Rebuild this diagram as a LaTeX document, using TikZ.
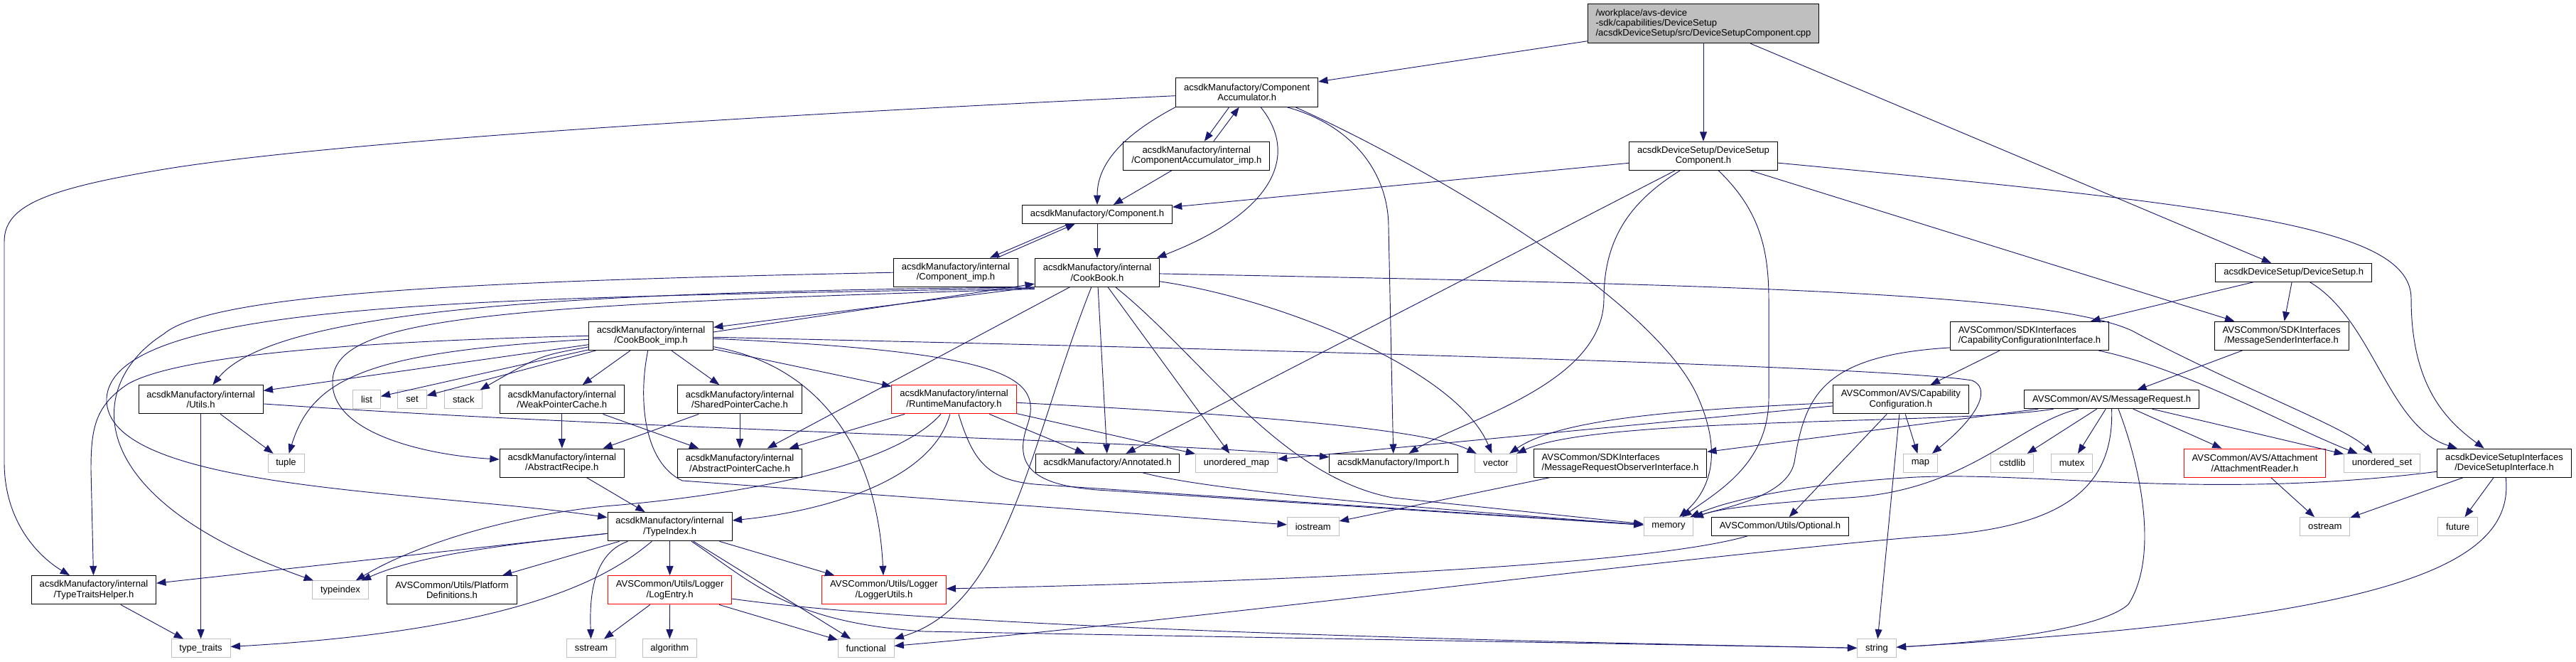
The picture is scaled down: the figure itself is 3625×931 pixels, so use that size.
\documentclass[tikz,border=0pt]{standalone}
\usepackage{fontspec}
\setmainfont{Liberation Sans}
\usepackage{tikz}
\usetikzlibrary{arrows.meta}
\definecolor{edgeblue}{HTML}{191970}
\definecolor{sysgray}{HTML}{BFBFBF}

\begin{document}
\begin{tikzpicture}
 [x=0.75pt, y=-0.75pt,
  file node/.style={draw=black, fill=white, line width=0.75pt, align=center, inner xsep=8.5pt, inner ysep=0pt, minimum height=30.2pt, font=\fontsize{9.8}{10.8}\selectfont},
  short node/.style={file node, minimum height=19.3pt},
  sys node/.style={short node, draw=sysgray},
  red node/.style={file node, draw=red},
  src node/.style={file node, fill=sysgray, align=left, minimum height=41.25pt},
  dep/.style={draw=edgeblue, line width=0.7pt, -{Triangle[length=10pt,width=7.5pt]}}]

\useasboundingbox (0,0) rectangle (3625,931);

\node[src node] (src) at (2397,33.2) {/workplace/avs-device\\-sdk/capabilities/DeviceSetup\\/acsdkDeviceSetup/src/DeviceSetupComponent.cpp};
\node[file node] (dscomp) at (2397,219.3) {acsdkDeviceSetup/DeviceSetup\\Component.h};
\node[file node] (compacc) at (1754.7,130) {acsdkManufactory/Component\\Accumulator.h};
\node[file node] (compaccimp) at (1683.8,219.3) {acsdkManufactory/internal\\/ComponentAccumulator\_imp.h};
\node[short node] (comp) at (1544,301.3) {acsdkManufactory/Component.h};
\node[file node] (compimp) at (1345,383.2) {acsdkManufactory/internal\\/Component\_imp.h};
\node[file node] (cookbook) at (1544,383.2) {acsdkManufactory/internal\\/CookBook.h};
\node[file node] (cookbookimp) at (916,472.3) {acsdkManufactory/internal\\/CookBook\_imp.h};

\node[file node] (utils) at (282.6,561.8) {acsdkManufactory/internal\\/Utils.h};
\node[sys node] (list) at (516,561.8) {list};
\node[sys node] (set) at (580,561.8) {set};
\node[sys node] (stack) at (652.3,561.8) {stack};
\node[file node] (weakcache) at (790.8,561.8) {acsdkManufactory/internal\\/WeakPointerCache.h};
\node[file node] (sharedcache) at (1041,561.8) {acsdkManufactory/internal\\/SharedPointerCache.h};
\node[red node] (runtime) at (1342.5,561.8) {acsdkManufactory/internal\\/RuntimeManufactory.h};

\node[sys node] (tuple) at (402.5,651.2) {tuple};
\node[file node] (recipe) at (790.8,651.2) {acsdkManufactory/internal\\/AbstractRecipe.h};
\node[file node] (ptrcache) at (1041,651.2) {acsdkManufactory/internal\\/AbstractPointerCache.h};
\node[short node] (annotated) at (1558.5,651.2) {acsdkManufactory/Annotated.h};
\node[sys node] (umap) at (1740,651.2) {unordered\_map};
\node[short node] (import) at (1961,651.2) {acsdkManufactory/Import.h};
\node[sys node] (vector) at (2105,651.2) {vector};
\node[file node, align=left] (mrobs) at (2280,651.2) {AVSCommon/SDKInterfaces\\/MessageRequestObserverInterface.h};

\node[file node] (typeidx) at (942.6,740.7) {acsdkManufactory/internal\\/TypeIndex.h};
\node[sys node] (iostream) at (1847.8,740.5) {iostream};
\node[sys node] (memory) at (2348,740.5) {memory};
\node[short node] (optional) at (2505,740.5) {AVSCommon/Utils/Optional.h};

\node[file node] (ttraits) at (132,829.8) {acsdkManufactory/internal\\/TypeTraitsHelper.h};
\node[sys node] (typeindex) at (479,829.8) {typeindex};
\node[file node] (platform) at (636,829.8) {AVSCommon/Utils/Platform\\Definitions.h};
\node[red node] (logentry) at (942.6,829.8) {AVSCommon/Utils/Logger\\/LogEntry.h};
\node[red node] (loggerutils) at (1244,829.8) {AVSCommon/Utils/Logger\\/LoggerUtils.h};

\node[sys node] (typetraits) at (282.6,911.8) {type\_traits};
\node[sys node] (sstream) at (832,911.8) {sstream};
\node[sys node] (algorithm) at (942.3,911.8) {algorithm};
\node[sys node] (functional) at (1218.7,911.8) {functional};
\node[sys node] (string) at (2641,911.8) {string};

\node[short node] (devsetup) at (3227.7,383.2) {acsdkDeviceSetup/DeviceSetup.h};
\node[file node, align=left] (capcfgif) at (2856,472.3) {AVSCommon/SDKInterfaces\\/CapabilityConfigurationInterface.h};
\node[file node] (msgsender) at (3210.6,472.3) {AVSCommon/SDKInterfaces\\/MessageSenderInterface.h};
\node[file node] (capcfg) at (2674.8,561.8) {AVSCommon/AVS/Capability\\Configuration.h};
\node[short node] (msgreq) at (2971.6,561.8) {AVSCommon/AVS/MessageRequest.h};
\node[sys node] (map) at (2702.5,651.2) {map};
\node[sys node] (cstdlib) at (2831.8,651.2) {cstdlib};
\node[sys node] (mutex) at (2915.6,651.2) {mutex};
\node[red node] (attreader) at (3173,651.2) {AVSCommon/AVS/Attachment\\/AttachmentReader.h};
\node[sys node] (uset) at (3352,651.2) {unordered\_set};
\node[file node] (dsif) at (3524,651.2) {acsdkDeviceSetupInterfaces\\/DeviceSetupInterface.h};
\node[sys node] (ostream) at (3271.8,740.5) {ostream};
\node[sys node] (future) at (3458.7,740.5) {future};

\path
  (src) edge [dep] (compacc)
  (src) edge [dep] (dscomp)
  (src) edge [dep] (devsetup)

  (dscomp) edge [dep] (comp)
  (dscomp) edge [dep] (annotated)
  (dscomp) edge [dep] (msgsender)

  ([xshift=-18.75pt]compacc.south) edge [dep] ([xshift=8.25pt]compaccimp.north)
  ([xshift=18pt]compaccimp.north) edge [dep] ([xshift=-8.25pt]compacc.south)
  (compaccimp) edge [dep] (comp)

  (comp) edge [dep] (cookbook)
  ([xshift=-29.25pt]comp.south) edge [dep] ([xshift=36pt]compimp.north)
  ([xshift=43.5pt]compimp.north) edge [dep] ([xshift=-23.25pt]comp.south)

  (cookbook.south west) edge [dep] ([yshift=9pt]cookbookimp.east)
  ([yshift=4pt]cookbookimp.east) edge [dep] ([yshift=3.5pt]cookbook.south west)
  (cookbook) edge [dep] (ptrcache)
  (cookbook) edge [dep] (annotated)
  (cookbook) edge [dep] (umap)

  (cookbookimp) edge [dep] (utils)
  (cookbookimp) edge [dep] (list)
  (cookbookimp) edge [dep] (set)
  (cookbookimp) edge [dep] (weakcache)
  (cookbookimp) edge [dep] (sharedcache)
  (cookbookimp) edge [dep] (runtime)

  (weakcache) edge [dep] (recipe)
  (weakcache) edge [dep] (ptrcache)
  (sharedcache) edge [dep] (ptrcache)
  (sharedcache) edge [dep] (recipe)
  (recipe) edge [dep] (typeidx)

  (runtime) edge [dep] (ptrcache)
  (runtime) edge [dep] (annotated)
  (runtime) edge [dep] (umap)

  (utils) edge [dep] (tuple)
  (utils) edge [dep] (typetraits)
  (ttraits) edge [dep] (typetraits)

  (typeidx) edge [dep] (ttraits)
  (typeidx) edge [dep] (platform)
  (typeidx) edge [dep] (logentry)
  (typeidx) edge [dep] (loggerutils)
  (typeidx) edge [dep] (functional)

  (logentry) edge [dep] (sstream)
  (logentry) edge [dep] (algorithm)
  (logentry) edge [dep] (functional)

  (devsetup) edge [dep] (capcfgif)
  (devsetup) edge [dep] (msgsender)
  (msgsender) edge [dep] (msgreq)
  (capcfgif) edge [dep] (capcfg)

  (capcfg) edge [dep] (umap)
  (capcfg) edge [dep] (map)
  (capcfg) edge [dep] (optional)
  (capcfg) edge [dep] (string)

  (msgreq) edge [dep] (mrobs)
  (msgreq) edge [dep] (cstdlib)
  (msgreq) edge [dep] (mutex)
  (msgreq) edge [dep] (attreader)
  (msgreq) edge [dep] (uset)

  (mrobs) edge [dep] (iostream)
  (attreader) edge [dep] (ostream)
  (dsif) edge [dep] (ostream)
  (dsif) edge [dep] (future);

\draw[dep] (dscomp) .. controls (2300,280) and (2257,330) .. (2257,420) .. controls (2257,540) and (2060,590) .. (import);
\draw[dep] (dscomp) .. controls (2470,290) and (2489,340) .. (2489,420) -- (2489,560) .. controls (2489,650) and (2420,690) .. (memory);
\draw[dep] (dscomp) .. controls (3150,290) and (3393,320) .. (3393,420) .. controls (3393,540) and (3440,590) .. (dsif);

\draw[dep] (compacc) .. controls (900,170) and (450,205) .. (250,235) .. controls (60,265) and (6,290) .. (6,340) -- (6,650) .. controls (6,730) and (50,780) .. (ttraits);
\draw[dep] (compacc.south west) .. controls (1580,190) and (1544,230) .. (comp);
\draw[dep] ([xshift=14.5pt]compacc.south) .. controls (1830,220) and (1790,300) .. ([xshift=-3pt]cookbook.north east);
\draw[dep] ([xshift=42pt]compacc.south) .. controls (1900,175) and (1954,240) .. (1954,320) -- (import);
\draw[dep] ([xshift=51pt]compacc.south) .. controls (2000,230) and (2330,420) .. (2390,560) .. controls (2425,640) and (2405,690) .. (memory);

\draw[dep] (compimp.west) .. controls (700,395) and (300,410) .. (230,470) .. controls (120,540) and (110,700) .. (typeindex);

\draw[dep] (cookbook.south west) .. controls (850,410) and (390,430) .. (utils);
\draw[dep] ([yshift=-1pt]cookbook.south west) .. controls (700,420) and (160,420) .. (150,560) .. controls (145,690) and (600,690) .. (typeidx);
\draw[dep] ([yshift=-2pt]cookbook.south west) .. controls (650,430) and (465,450) .. (468,540) .. controls (470,610) and (600,640) .. (recipe);
\draw[dep] (cookbook) .. controls (1450,620) and (1420,850) .. (functional.north east);
\draw[dep] (cookbook) .. controls (1690,500) and (1800,670) .. (1960,700) -- (memory);
\draw[dep] (cookbook) .. controls (2400,400) and (2880,410) .. (3000,465) .. controls (3150,545) and (3300,600) .. (uset);
\draw[dep] (cookbook) .. controls (1800,420) and (2050,520) .. (vector);

\draw[dep] (cookbookimp) .. controls (760,500) .. (stack);
\draw[dep] (cookbookimp.west) .. controls (500,480) and (250,500) .. (180,540) .. controls (135,570) and (128,600) .. (128,660) -- (ttraits);
\draw[dep] (cookbookimp) .. controls (520,495) and (440,530) .. (tuple);
\draw[dep] (cookbookimp) .. controls (1160,515) and (1235,640) .. (loggerutils);
\draw[dep] (cookbookimp) .. controls (1800,492) and (2650,515) .. (2775,535) .. controls (2800,545) and (2790,580) .. (map);
\draw[dep] (cookbookimp) .. controls (1420,495) and (1470,530) .. (1445,600) .. controls (1425,660) and (1460,685) .. (1560,690) -- (memory);
\draw[dep] (cookbookimp) .. controls (898,560) and (905,650) .. (960,676) -- (iostream);

\draw[dep] (runtime) .. controls (1700,580) and (2000,600) .. (vector);
\draw[dep] (runtime) .. controls (1310,680) and (1150,720) .. (typeidx);
\draw[dep] (runtime) .. controls (1250,665) and (1000,700) .. (850,712) .. controls (680,730) and (560,780) .. (typeindex);
\draw[dep] (runtime) .. controls (1370,650) and (1390,678) .. (1470,682) -- (memory);

\draw[dep] (utils) .. controls (900,605) and (1600,618) .. (import);
\draw[dep] (annotated) .. controls (1700,690) and (2000,715) .. (memory);

\draw[dep] (typeidx) .. controls (720,765) and (590,780) .. (typeindex);
\draw[dep] (typeidx) .. controls (830,780) and (830,850) .. (sstream);
\draw[dep] (typeidx) .. controls (870,800) and (760,885) .. (typetraits);
\draw[dep] (typeidx) .. controls (1060,820) and (1110,875) .. (1300,888) -- (string);
\draw[dep] (logentry) .. controls (1300,880) and (2000,900) .. (string);
\draw[dep] (optional) .. controls (2300,800) and (1700,820) .. (loggerutils);

\draw[dep] (devsetup) .. controls (3340,450) and (3360,600) .. (dsif);
\draw[dep] (capcfgif) .. controls (3080,520) and (3220,600) .. (uset);
\draw[dep] ([yshift=3pt]capcfgif.south west) .. controls (2560,500) and (2540,560) .. (2525,650) .. controls (2515,700) and (2420,715) .. (memory);
\draw[dep] (capcfg) .. controls (2400,575) and (2200,585) .. (vector);

\draw[dep] (msgreq) .. controls (2750,598) and (2250,585) .. (vector);
\draw[dep] ([xshift=-35pt]msgreq.south) .. controls (2840,595) and (2770,690) .. (2600,700) .. controls (2480,708) and (2420,715) .. (memory);
\draw[dep] (msgreq.south) .. controls (2975,690) and (2900,745) .. (2700,755) .. controls (2300,790) and (1700,870) .. (functional);
\draw[dep] ([xshift=7pt]msgreq.south) .. controls (3010,650) and (3040,780) .. (2995,850) .. controls (2950,890) and (2760,905) .. (string);

\draw[dep] (dsif) .. controls (3540,800) and (3350,870) .. (string);
\draw[dep] (dsif) .. controls (3100,705) and (2850,660) .. (2680,672) .. controls (2550,680) and (2440,700) .. (memory);

\end{tikzpicture}
\end{document}
